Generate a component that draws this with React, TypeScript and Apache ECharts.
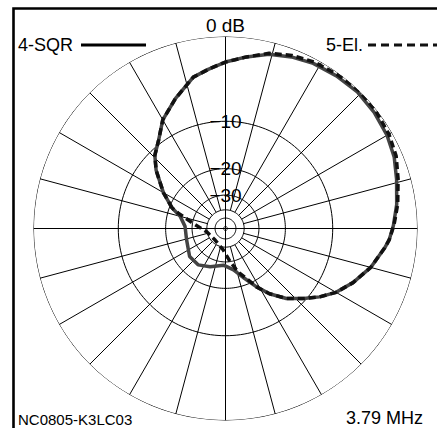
import React, { useEffect, useRef } from 'react';
import * as echarts from 'echarts';

// Grid definition (ARRL log-periodic scale: radius factor 0.89 per 2 dB)
const ringDb = [0, -10, -20, -30, -40, -50];
const ringLabelDb = [-10, -20, -30];
const ringLabels = ['−10', '−20', '−30'];
const spokeAngles = [15, 30, 45, 60, 75, 105, 120, 135, 150, 165, 195, 210, 225, 240, 255, 285, 300, 315, 330, 345];
const axisAngles = [0, 90];
const spokeInnerDb = -40;

const seriesNames = ['4-SQR', '5-El.'];
const topLabel = '0 dB';
const noteLeft = 'NC0805-K3LC03';
const noteRight = '3.79 MHz';

// 4-SQR (solid)
const sqrAz = [291, 300, 310, 316, 323, 330, 339, 348, 354, 0, 7, 14, 21, 28, 36, 44, 52, 60, 67, 74, 82, 89, 94, 97, 105, 113, 120, 126, 132, 139, 146, 152, 159, 169, 183, 202, 217, 232, 254, 273, 285, 291];
const sqrDb = [-20.8, -16.9, -12.9, -10.9, -9.4, -7.3, -5.5, -3.7, -3.1, -2.45, -1.8, -1.15, -0.75, -0.45, -0.3, -0.2, -0.3, -0.5, -0.8, -1.3, -1.8, -2.3, -2.7, -3.1, -4.2, -5.6, -7.0, -8.6, -10.4, -12.5, -15.3, -18.3, -21.9, -26.0, -28.4, -26.4, -24.7, -24.7, -26.7, -26.7, -24.2, -20.8];

// 5-El. (dashed)
const yagiAz = [291, 300, 310, 316, 323, 330, 339, 348, 354, 0, 7, 14, 21, 28, 36, 44, 52, 60, 67, 74, 82, 89, 94, 97, 105, 113, 120, 126, 132, 139, 146, 152, 155, 164, 172, 186, 222, 260, 279, 288, 291];
const yagiDb = [-20.8, -16.9, -12.9, -10.9, -9.4, -7.3, -5.5, -3.7, -3.1, -2.45, -1.8, -1.05, -0.6, -0.3, -0.15, 0, -0.1, -0.3, -0.6, -1.15, -1.7, -2.25, -2.7, -3.1, -4.2, -5.6, -7.0, -8.6, -10.4, -12.5, -15.3, -18.3, -20.4, -24.9, -30.0, -37.5, -43.1, -39.6, -30.4, -23.2, -20.8];

const toR = (db: number) => Math.pow(0.89, -db / 2);
const FONT = '"Liberation Sans", Arial, sans-serif';

export default function App() {
  const ref = useRef<HTMLDivElement>(null);
  useEffect(() => {
    document.body.style.margin = '0';
    const chart = echarts.init(ref.current!, null, { renderer: 'svg' });
    const gridStyle = { color: '#000', width: 1 };
    const ringAngles: number[] = [];
    for (let a = 0; a <= 360; a += 2) ringAngles.push(a);

    const series: any[] = [];
    ringDb.forEach((db) => {
      series.push({
        type: 'line', coordinateSystem: 'polar', silent: true, symbol: 'none',
        lineStyle: gridStyle, data: ringAngles.map((a) => [toR(db), a]),
      });
    });
    spokeAngles.forEach((a) => {
      series.push({
        type: 'line', coordinateSystem: 'polar', silent: true, symbol: 'none',
        lineStyle: gridStyle, data: [[toR(spokeInnerDb), a], [1, a]],
      });
    });
    axisAngles.forEach((a) => {
      series.push({
        type: 'line', coordinateSystem: 'polar', silent: true, symbol: 'none',
        lineStyle: gridStyle, data: [[1, a], [0, a], [1, a + 180]],
      });
    });
    series.push({
      type: 'scatter', coordinateSystem: 'polar', silent: true,
      symbol: 'circle', symbolSize: 4,
      itemStyle: { color: '#fff', borderColor: '#000', borderWidth: 1 },
      data: [[0, 0]],
    });
    series.push({
      name: seriesNames[0], type: 'line', coordinateSystem: 'polar', symbol: 'none',
      itemStyle: { color: '#444' },
      lineStyle: { color: '#444', width: 3.5 },
      data: sqrAz.map((a, i) => [toR(sqrDb[i]), a]),
    });
    series.push({
      name: seriesNames[1], type: 'line', coordinateSystem: 'polar', symbol: 'none',
      itemStyle: { color: '#111' },
      lineStyle: { color: '#111', width: 3.5, type: [7, 4] },
      data: yagiAz.map((a, i) => [toR(yagiDb[i]), a]),
    });
    series.push({
      type: 'scatter', coordinateSystem: 'polar', silent: true,
      symbolSize: 1, itemStyle: { color: 'rgba(0,0,0,0)' },
      label: {
        show: true, position: 'inside', color: '#000', fontSize: 19, fontFamily: FONT, opacity: 1,
        backgroundColor: '#fff', padding: [0, 1, 0, 1],
        formatter: (p: any) => ringLabels[p.dataIndex],
      },
      data: ringLabelDb.map((db) => [toR(db), 0]),
    });

    chart.setOption({
      animation: false,
      backgroundColor: '#fff',
      polar: { center: [225.5, 228.5], radius: [0, 192] },
      angleAxis: {
        type: 'value', min: 0, max: 360, startAngle: 90, clockwise: true,
        axisLine: { show: false }, axisTick: { show: false }, axisLabel: { show: false }, splitLine: { show: false },
      },
      radiusAxis: {
        type: 'value', min: 0, max: 1,
        axisLine: { show: false }, axisTick: { show: false }, axisLabel: { show: false }, splitLine: { show: false },
      },
      legend: [
        {
          data: [seriesNames[0]], left: 13, top: 31, align: 'right', itemWidth: 65, itemHeight: 14,
          textStyle: { color: '#000', fontSize: 18, fontFamily: FONT, padding: [0, 3, 0, 0] },
          itemStyle: { opacity: 0 },
          lineStyle: { color: '#000', width: 3, type: 'solid' },
          selectedMode: false,
        },
        {
          data: [seriesNames[1]], left: 321, top: 31, align: 'right', itemWidth: 85, itemHeight: 14,
          textStyle: { color: '#000', fontSize: 18, fontFamily: FONT },
          itemStyle: { opacity: 0 },
          lineStyle: { color: '#111', width: 3, type: [8, 5] },
          selectedMode: false,
        },
      ],
      graphic: [
        {
          type: 'rect', z: 100, silent: true,
          shape: { x: 13.5, y: 8.5, width: 600, height: 600 },
          style: { fill: 'none', stroke: '#000', lineWidth: 2.6 },
        },
        {
          type: 'text', z: 100, silent: true,
          style: { text: topLabel, x: 225.5, y: 25, fill: '#000', font: `19px ${FONT}`, align: 'center', verticalAlign: 'middle', textAlign: 'center', textVerticalAlign: 'middle' },
        },
        {
          type: 'text', z: 100, silent: true,
          style: { text: noteLeft, x: 18, y: 419, fill: '#000', font: `15px ${FONT}`, align: 'left', verticalAlign: 'middle', textAlign: 'left', textVerticalAlign: 'middle' },
        },
        {
          type: 'text', z: 100, silent: true,
          style: { text: noteRight, x: 423, y: 418, fill: '#000', font: `18px ${FONT}`, align: 'right', verticalAlign: 'middle', textAlign: 'right', textVerticalAlign: 'middle' },
        },
      ],
      series,
    });
    return () => chart.dispose();
  }, []);
  return <div ref={ref} style={{ width: 437, height: 428 }} />;
}
